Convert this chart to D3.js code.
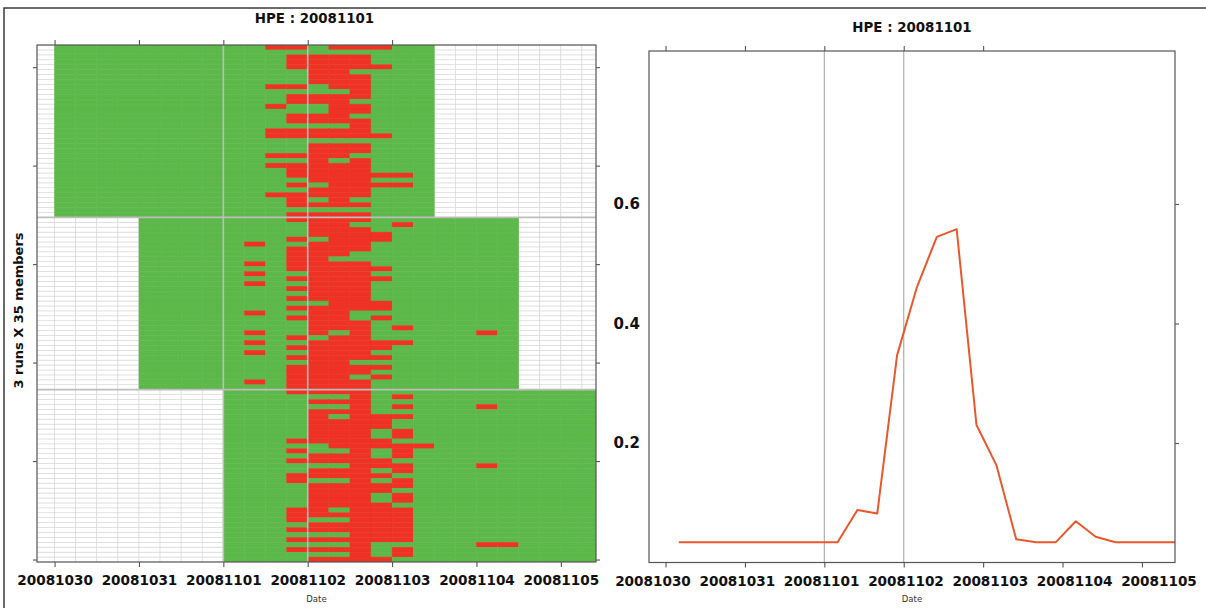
<!DOCTYPE html>
<html>
<head>
<meta charset="utf-8">
<script src="https://cdn.jsdelivr.net/npm/d3@7"></script>
<style>
  html, body { margin: 0; padding: 0; background: #fff; }
  svg { display: block; }
  text { font-family: "DejaVu Sans", sans-serif; }
</style>
</head>
<body>
<svg id="chart" width="1206" height="608"></svg>
<script>
// ---------------- data ----------------
const chartTitle = "HPE : 20081101";
const yAxisTitle = "3 runs X 35 members";
const xAxisTitle = "Date";
const dateLabels = ["20081030", "20081031", "20081101", "20081102", "20081103", "20081104", "20081105"];
const dateHours  = [0, 24, 48, 72, 96, 120, 144];          // hours after 20081030 00Z
const topTickHours = [0, 24, 48, 72, 96];
const memberTicks = [0, 20, 40, 60, 80, 100];
const runStartHours = [0, 24, 48];                          // forecast runs 1030, 1031, 1101
const stepHours = 6;
const stepsPerRun = 18;
const membersPerRun = 35;

// 6-hourly slots (counted from 20081030 00Z) in which each member exceeds the threshold
const run1Red = [
  [10,11,13,14,15], [], [11,12,13,14], [11,12,13,14], [11,12,13,14,15],
  [12,13], [12,13,14], [12,13,14], [10,11,13,14], [14],
  [11,12,13,14], [11,12,13], [10,13,14], [13,14], [11,12,13],
  [11,12,13,14], [14], [10,11,12,13,14], [10,11,12,13,14,15], [],
  [12,13,14], [12,13,14], [10,11,12,13], [12,14], [10,11,12,13,14],
  [11,12,13,14], [11,12,13,14,15,16], [12,13,14], [11,13,14,15,16], [12,13,14],
  [10,11,12,13,14], [11,13], [11,12,13,14], [], [11,12,13,14]
];
const run2Red = [
  [11,12,13,14], [12,13,16], [12,13,14], [12,13,14,15], [11,13,14,15],
  [9,12,13,14], [11,12,13,14], [11,12,13], [11,12], [9,11,12,13,14],
  [11,12,13,14,15], [9,12,13,14], [11,12,13,14,15], [9,12,13,14], [11,12,13,14],
  [12,13,14], [11,12,13,14], [13,14,15], [11,12,13,14,15], [9,12,13],
  [11,12,13,15], [12,13,14], [12,13,14,16], [9,12,14,20], [11,13,14],
  [9,12,13,14,15,16], [11,12,13,14,15], [9,12,13,14], [11,12,13,14,15], [12,13],
  [11,12,13,14,15], [11,12,13,14], [11,12,13,15], [9,11,12,13,14], [11,12,13,14]
];
const run3Red = [
  [11,12,13,14], [14,16], [12,13,14], [14,16,20], [12,13,14],
  [12,14,15,16], [12,13,14,15], [12,13,14,15], [12,13,14,16], [12,13,14,16],
  [11,12,13,14,15], [13,14,15,16,17], [11,14,16], [12,13,14,16], [11,12,13,14,15],
  [14,15,16,20], [12,13,14,16], [11,12,13,14,15], [11,14,16], [12,13,14,15,16],
  [12,13,14,15], [12,13,14,16], [12,13,14,16], [12,13,14,15], [11,12,14,15,16],
  [11,12,13,14,15,16], [11,14,15,16], [12,13,14,15,16], [11,12,13,14,15,16], [14,15,16],
  [11,12,13,14,15,16], [14,20,21], [11,12,13,14,16], [14,16], [12,13,14,15]
];
const runRed = [run1Red, run2Red, run3Red];

// exceedance probability over all members
const probHours  = [4, 10, 16, 22, 28, 34, 40, 46, 52, 58, 64, 70, 76, 82, 88, 94,
                    100, 106, 112, 118, 124, 130, 136, 142, 148, 154];
const probValues = [0.034, 0.034, 0.034, 0.034, 0.034, 0.034, 0.034, 0.034, 0.034, 0.088,
                    0.082, 0.347, 0.461, 0.545, 0.558, 0.230, 0.163, 0.039, 0.034, 0.034,
                    0.069, 0.043, 0.034, 0.034, 0.034, 0.034];
const probTicks = [0.2, 0.4, 0.6];

// ---------------- style ----------------
const GREEN = "#5cb848", RED = "#ee3224", LINE = "#e9582c";
const FRAME = "#555", GUIDE = "#bdbdbd", EMPTY_GRID = "#d6d6d6";

const svg = d3.select("#chart");
svg.append("rect").attr("width", 1206).attr("height", 608).attr("fill", "#fff");

// page box (top and left edges)
svg.append("path").attr("d", "M4,608V8H1206").attr("fill", "none")
   .attr("stroke", "#3a3a3a").attr("stroke-width", 1.5);

const hourDomain = [-5, 154];

// ================= left panel: member heat map =================
const L = { x0: 37, x1: 596, y0: 45, y1: 562 };
const xL = d3.scaleLinear().domain(hourDomain).range([L.x0, L.x1]);
const yL = d3.scaleLinear().domain([-0.5, 104.5]).range([L.y1, L.y0]);
const nRows = membersPerRun * runStartHours.length;

svg.append("clipPath").attr("id", "clipL").append("rect")
   .attr("x", L.x0).attr("y", L.y0).attr("width", L.x1 - L.x0).attr("height", L.y1 - L.y0);
const gL = svg.append("g").attr("clip-path", "url(#clipL)");

// empty grid (no forecast available)
const slotFirst = Math.floor(hourDomain[0] / stepHours), slotLast = Math.ceil(hourDomain[1] / stepHours);
const gridCells = [];
for (let r = 0; r < nRows; r++)
  for (let s = slotFirst; s <= slotLast; s++) gridCells.push({ r, s });
gL.append("g").selectAll("rect").data(gridCells).join("rect")
  .attr("x", d => xL(d.s * stepHours))
  .attr("width", d => xL((d.s + 1) * stepHours) - xL(d.s * stepHours))
  .attr("y", d => yL(d.r + 0.5))
  .attr("height", d => yL(d.r - 0.5) - yL(d.r + 0.5))
  .attr("fill", "#fff").attr("stroke", EMPTY_GRID).attr("stroke-width", 0.6);

// forecast cells
const cells = [];
runStartHours.forEach((start, run) => {
  for (let m = 0; m < membersPerRun; m++) {
    const row = nRows - 1 - (run * membersPerRun + m);
    for (let step = 0; step < stepsPerRun; step++) {
      const slot = start / stepHours + step;
      cells.push({ row, slot, hit: runRed[run][m].includes(slot) });
    }
  }
});
gL.append("g").selectAll("rect").data(cells).join("rect")
  .attr("x", d => xL(d.slot * stepHours))
  .attr("width", d => xL((d.slot + 1) * stepHours) - xL(d.slot * stepHours))
  .attr("y", d => yL(d.row + 0.5))
  .attr("height", d => yL(d.row - 0.5) - yL(d.row + 0.5))
  .attr("fill", d => d.hit ? RED : GREEN)
  .attr("stroke", d => d.hit ? RED : GREEN).attr("stroke-width", 0.4);

// run separators and reference days
const sepRows = [membersPerRun * 2 - 0.5, membersPerRun - 0.5];
gL.append("g").selectAll("line").data(sepRows).join("line")
  .attr("x1", L.x0).attr("x2", L.x1).attr("y1", d => yL(d)).attr("y2", d => yL(d))
  .attr("stroke", GUIDE).attr("stroke-width", 1.6);
gL.append("g").selectAll("line").data([48, 72]).join("line")
  .attr("x1", d => xL(d)).attr("x2", d => xL(d)).attr("y1", L.y0).attr("y2", L.y1)
  .attr("stroke", GUIDE).attr("stroke-width", 1.6);

// frame
svg.append("rect").attr("x", L.x0).attr("y", L.y0).attr("width", L.x1 - L.x0).attr("height", L.y1 - L.y0)
   .attr("fill", "none").attr("stroke", FRAME).attr("stroke-width", 1.2);

function styleAxis(g) {
  g.select(".domain").remove();
  g.selectAll(".tick line").attr("stroke", FRAME).attr("stroke-width", 1.1);
}

svg.append("g").attr("transform", `translate(0,${L.y1})`)
   .call(d3.axisBottom(xL).tickValues(dateHours).tickFormat((d, i) => dateLabels[i]).tickSize(5).tickPadding(8))
   .call(styleAxis)
   .selectAll("text").attr("font-size", 13.6).attr("font-weight", "bold").attr("fill", "#111");
svg.append("g").attr("transform", `translate(0,${L.y0})`)
   .call(d3.axisTop(xL).tickValues(topTickHours).tickFormat("").tickSize(5)).call(styleAxis);
svg.append("g").attr("transform", `translate(${L.x0},0)`)
   .call(d3.axisLeft(yL).tickValues(memberTicks).tickFormat("").tickSize(4)).call(styleAxis);
svg.append("g").attr("transform", `translate(${L.x1},0)`)
   .call(d3.axisRight(yL).tickValues(memberTicks).tickFormat("").tickSize(4)).call(styleAxis);

svg.append("text").attr("x", (L.x0 + L.x1) / 2 - 2).attr("y", 23).attr("text-anchor", "middle")
   .attr("font-size", 13.4).attr("font-weight", "bold").attr("fill", "#111").text(chartTitle);
svg.append("text").attr("transform", `translate(23,${(L.y0 + L.y1) / 2 + 7}) rotate(-90)`)
   .attr("text-anchor", "middle").attr("font-size", 13).attr("font-weight", "bold").attr("fill", "#111")
   .text(yAxisTitle);
svg.append("text").attr("x", (L.x0 + L.x1) / 2).attr("y", 602).attr("text-anchor", "middle")
   .attr("font-size", 8.5).attr("fill", "#333").text(xAxisTitle);

// ================= right panel: exceedance probability =================
const R = { x0: 649, x1: 1175, y0: 51, y1: 562.5 };
const xR = d3.scaleLinear().domain(hourDomain).range([R.x0, R.x1]);
const yR = d3.scaleLinear().domain([0, 0.856]).range([R.y1, R.y0]);
const xRLabel = d3.scaleLinear().domain([0, 144]).range([653, 1159]);

svg.append("clipPath").attr("id", "clipR").append("rect")
   .attr("x", R.x0).attr("y", R.y0).attr("width", R.x1 - R.x0).attr("height", R.y1 - R.y0);
const gR = svg.append("g").attr("clip-path", "url(#clipR)");

gR.append("g").selectAll("line").data([48, 72]).join("line")
  .attr("x1", d => xR(d)).attr("x2", d => xR(d)).attr("y1", R.y0).attr("y2", R.y1)
  .attr("stroke", "#b0b0b0").attr("stroke-width", 1.2);

const probLine = d3.line().x((d, i) => xR(probHours[i])).y(d => yR(d));
gR.append("path").datum(probValues).attr("d", probLine)
  .attr("fill", "none").attr("stroke", LINE).attr("stroke-width", 2).attr("stroke-linejoin", "round");

svg.append("rect").attr("x", R.x0).attr("y", R.y0).attr("width", R.x1 - R.x0).attr("height", R.y1 - R.y0)
   .attr("fill", "none").attr("stroke", FRAME).attr("stroke-width", 1.2);

svg.append("g").attr("transform", `translate(0,${R.y1})`)
   .call(d3.axisBottom(xR).tickValues(dateHours).tickFormat("").tickSize(5)).call(styleAxis);
svg.append("g").attr("transform", `translate(0,${R.y0})`)
   .call(d3.axisTop(xR).tickValues(topTickHours).tickFormat("").tickSize(5)).call(styleAxis);
svg.append("g").attr("transform", `translate(${R.x1},0)`)
   .call(d3.axisRight(yR).tickValues(probTicks).tickFormat("").tickSize(4)).call(styleAxis);
svg.append("g").attr("transform", `translate(${R.x0},0)`)
   .call(d3.axisLeft(yR).tickValues(probTicks).tickFormat(d3.format(".1f")).tickSize(0).tickPadding(9))
   .call(styleAxis)
   .selectAll("text").attr("font-size", 15).attr("font-weight", "bold").attr("fill", "#111");

svg.append("g").selectAll("text").data(dateLabels).join("text")
   .attr("x", (d, i) => xRLabel(dateHours[i])).attr("y", 586).attr("text-anchor", "middle")
   .attr("font-size", 13.6).attr("font-weight", "bold").attr("fill", "#111").text(d => d);

svg.append("text").attr("x", (R.x0 + R.x1) / 2).attr("y", 32).attr("text-anchor", "middle")
   .attr("font-size", 13.4).attr("font-weight", "bold").attr("fill", "#111").text(chartTitle);
svg.append("text").attr("x", 912).attr("y", 602).attr("text-anchor", "middle")
   .attr("font-size", 8.5).attr("fill", "#333").text(xAxisTitle);
</script>
</body>
</html>
